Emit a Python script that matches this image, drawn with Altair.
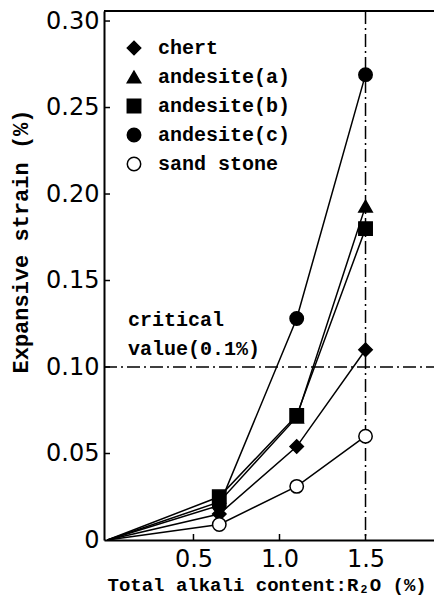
import altair as alt
import pandas as pd

rocks = ["chert", "andesite(a)", "andesite(b)", "andesite(c)", "sand stone"]
alkali = [0.0, 0.65, 1.1, 1.5]
chert = [0.0, 0.015, 0.054, 0.110]
andesite_a = [0.0, 0.022, 0.071, 0.193]
andesite_b = [0.0, 0.025, 0.072, 0.180]
andesite_c = [0.0, 0.020, 0.128, 0.269]
sand_stone = [0.0, 0.009, 0.031, 0.060]
series = [chert, andesite_a, andesite_b, andesite_c, sand_stone]

shapes = ["diamond", "triangle-up", "square", "circle", "circle"]
fills = ["black", "black", "black", "black", "white"]

y_ticks = [0.05, 0.10, 0.15, 0.20, 0.25, 0.30]
x_ticks = [0.5, 1.0, 1.5]
critical = 0.10
limit_x = 1.5

rows = []
for r, vals in zip(rocks, series):
    for x, y in zip(alkali, vals):
        rows.append({"rock": r, "x": x, "y": y})
df = pd.DataFrame(rows)
pts = df[df["x"] > 0]

W, H = 330, 529
XD = [-0.02, 1.898]
YD = [0, 0.3058]
MONO = "Liberation Mono"
LAB = "DejaVu Sans"

xs = alt.Scale(domain=XD, nice=False, zero=False)
ys = alt.Scale(domain=YD, nice=False, zero=False)

lines = alt.Chart(df).mark_line(color="black", strokeWidth=1.5).encode(
    x=alt.X("x:Q", scale=xs, axis=alt.Axis(
        values=x_ticks, format=".1f", ticks=False, grid=False,
        labelFont=LAB, labelFontSize=24, labelColor="black", labelPadding=7,
        domainColor="black", domainWidth=2,
        title="Total alkali content:R₂O (%)", titleFont=MONO, titleFontSize=19,
        titleFontWeight="bold", titleColor="black", titleAnchor="start",
        titleAlign="left", titleX=3, titleY=44, titleBaseline="middle")),
    y=alt.Y("y:Q", scale=ys, axis=alt.Axis(
        values=[0] + y_ticks, ticks=False, grid=False,
        labelExpr="datum.value == 0 ? '0' : format(datum.value, '.2f')",
        labelFont=LAB, labelFontSize=24, labelColor="black", labelPadding=5,
        domainColor="black", domainWidth=2,
        title="Expansive strain (%)", titleFont=MONO, titleFontSize=22,
        titleFontWeight="bold", titleColor="black", titleX=-84, titleY=230,
        titleBaseline="middle", titleAngle=270)),
    detail="rock:N",
)

points = alt.Chart(pts).mark_point(filled=False, stroke="black", strokeWidth=1.5, size=180, opacity=1).encode(
    x=alt.X("x:Q", scale=xs),
    y=alt.Y("y:Q", scale=ys),
    shape=alt.Shape("rock:N", scale=alt.Scale(domain=rocks, range=shapes)),
    fill=alt.Fill("rock:N", scale=alt.Scale(domain=rocks, range=fills),
                  legend=alt.Legend(orient="none", legendX=16, legendY=27, title=None,
                                    labelFont=MONO, labelFontSize=20, labelFontWeight="bold",
                                    labelColor="black",
                                    symbolSize=180, symbolStrokeColor="black",
                                    symbolStrokeWidth=1.5, rowPadding=9, labelOffset=14,
                                    symbolOffset=4)),
)

hline = alt.Chart(pd.DataFrame({"y": [critical]})).mark_rule(
    color="black", strokeWidth=1.5, strokeDash=[13, 4, 2, 4]).encode(
    y=alt.Y("y:Q", scale=ys), x=alt.value(0), x2=alt.value(W))
vline = alt.Chart(pd.DataFrame({"x": [limit_x]})).mark_rule(
    color="black", strokeWidth=1.5, strokeDash=[13, 4, 2, 4]).encode(
    x=alt.X("x:Q", scale=xs), y=alt.value(0), y2=alt.value(H))
top = alt.Chart(pd.DataFrame({"y": [YD[1]]})).mark_rule(color="black", strokeWidth=2).encode(
    y=alt.Y("y:Q", scale=ys), x=alt.value(0), x2=alt.value(W))
ytk = alt.Chart(pd.DataFrame({"y": y_ticks})).mark_rule(color="black", strokeWidth=1.5).encode(
    y=alt.Y("y:Q", scale=ys), x=alt.value(0), x2=alt.value(6))
xtk = alt.Chart(pd.DataFrame({"x": x_ticks})).mark_rule(color="black", strokeWidth=1.5).encode(
    x=alt.X("x:Q", scale=xs), y=alt.value(H), y2=alt.value(H - 6))
note = alt.Chart(pd.DataFrame({"x": [0.12], "y": [0.127], "t": ["critical\nvalue(0.1%)"]})).mark_text(
    font=MONO, fontSize=20, fontWeight="bold", align="left", baseline="middle", lineBreak="\n",
    lineHeight=29, color="black").encode(
    x=alt.X("x:Q", scale=xs), y=alt.Y("y:Q", scale=ys), text="t:N")

chart = alt.layer(hline, vline, top, ytk, xtk, lines, points, note).properties(
    width=W, height=H,
    autosize=alt.AutoSizeParams(type="none"),
    padding={"left": 96, "top": 3, "right": 0, "bottom": 55},
).configure_view(stroke=None).configure(background="white")

chart.save("out.html", embed_options={"renderer": "svg", "actions": False})
